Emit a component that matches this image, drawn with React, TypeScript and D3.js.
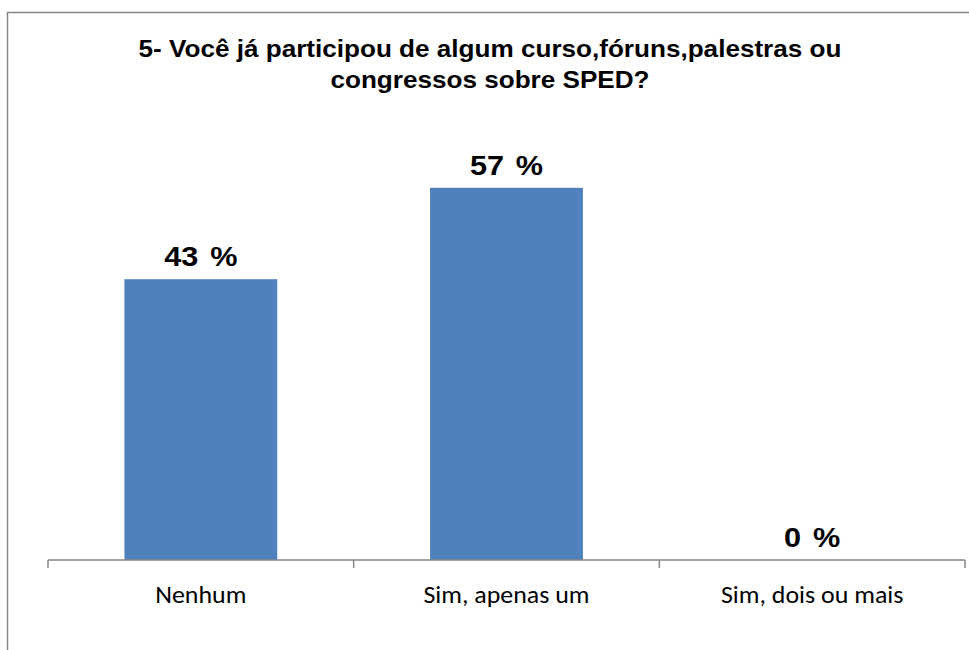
import React from "react";
import * as d3 from "d3";

const categories: string[] = ["Nenhum", "Sim, apenas um", "Sim, dois ou mais"];
const values: number[] = [43, 57, 0];
const titleLines: string[] = [
  "5- Você já participou de algum curso,fóruns,palestras ou",
  "congressos sobre SPED?",
];

const W = 969;
const H = 650;
const STRETCH = 1.135;

export default function App() {
  const x = d3
    .scaleBand<string>()
    .domain(categories)
    .range([48, 965])
    .paddingInner(0.5)
    .paddingOuter(0.25);
  const y = d3.scaleLinear().domain([0, 60]).range([560, 560 - 6.53 * 60]);
  const step = x.step();
  const boundaries = d3.range(categories.length + 1).map((i) => 48 + i * step);

  return (
    <svg
      width={W}
      height={H}
      style={{ position: "absolute", left: 0, top: 0, background: "#fff" }}
    >
      <rect x={0} y={0} width={W} height={H} fill="#fff" />
      <rect
        x={7.5}
        y={12.5}
        width={1000}
        height={700}
        fill="none"
        stroke="#868686"
        strokeWidth={1.5}
      />
      {titleLines.map((t, i) => (
        <text
          key={i}
          transform={`translate(490,${57 + i * 31}) scale(${STRETCH},1)`}
          textAnchor="middle"
          fontFamily="'Liberation Sans', Arial, sans-serif"
          fontWeight="bold"
          fontSize={23}
          fill="#000"
        >
          {t}
        </text>
      ))}
      {categories.map((c, i) => (
        <rect
          key={c}
          x={x(c)}
          y={y(values[i])}
          width={x.bandwidth()}
          height={y(0) - y(values[i])}
          fill="#4F81BD"
        />
      ))}
      {categories.map((c, i) => (
        <text
          key={"v" + c}
          transform={`translate(${(x(c) as number) + x.bandwidth() / 2},${y(values[i]) - 13}) scale(${STRETCH},1)`}
          textAnchor="middle"
          fontFamily="'Liberation Sans', Arial, sans-serif"
          fontWeight="bold"
          fontSize={27}
          wordSpacing={3}
          fill="#000"
        >
          {`${values[i]} %`}
        </text>
      ))}
      <line x1={48} x2={965} y1={y(0)} y2={y(0)} stroke="#868686" strokeWidth={1.5} />
      {boundaries.map((b, i) => (
        <line key={i} x1={b} x2={b} y1={y(0)} y2={y(0) + 8} stroke="#868686" strokeWidth={1.5} />
      ))}
      {categories.map((c) => (
        <text
          key={"l" + c}
          transform={`translate(${(x(c) as number) + x.bandwidth() / 2},603) scale(1.08,1)`}
          textAnchor="middle"
          fontFamily="Carlito, Lato, 'Open Sans', sans-serif"
          fontSize={24}
          fill="#000"
        >
          {c}
        </text>
      ))}
    </svg>
  );
}
